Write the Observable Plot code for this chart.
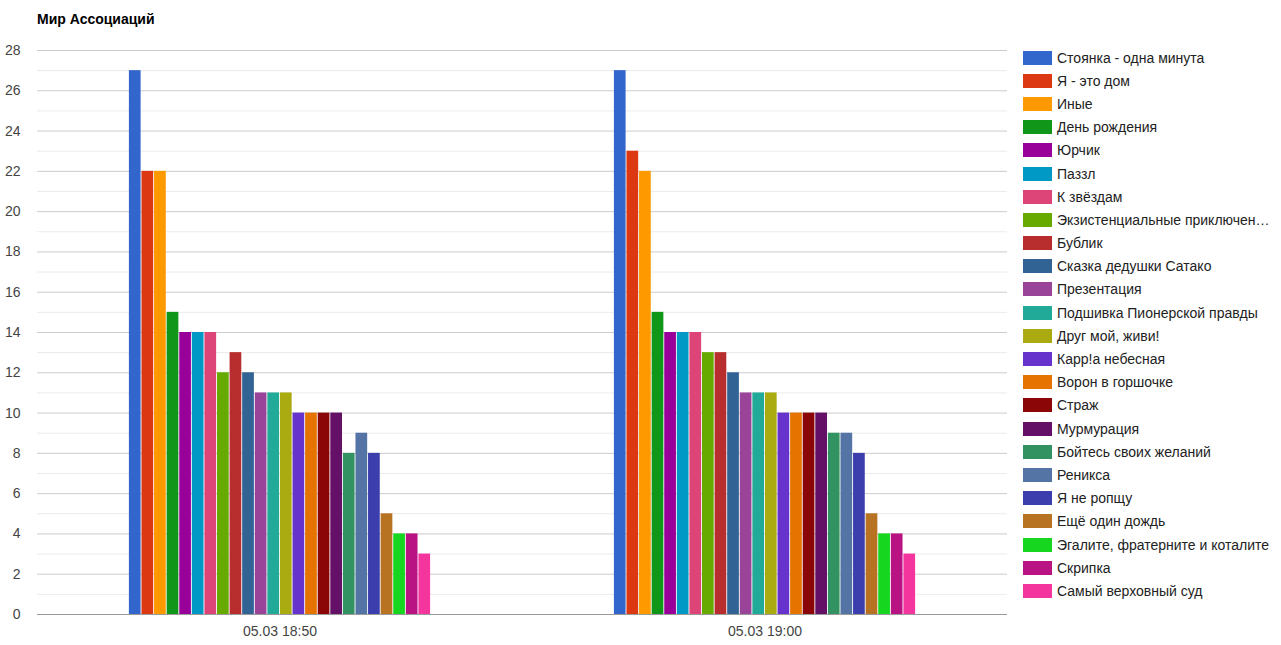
<!DOCTYPE html>
<html><head><meta charset="utf-8">
<script src="https://cdn.jsdelivr.net/npm/d3@7"></script>
<script src="https://cdn.jsdelivr.net/npm/@observablehq/plot@0.6"></script>
<style>
body{margin:0;background:#fff;font-family:Arial,"Liberation Sans",sans-serif;}
#wrap{position:relative;width:1281px;height:645px;}
#title{position:absolute;left:37px;top:11px;font-size:14px;font-weight:bold;color:#000;}
#chart{position:absolute;left:0;top:40px;}
#legend{position:absolute;left:1023px;top:46px;font-size:14px;color:#222;}
.li{display:flex;align-items:center;height:23.2px;white-space:nowrap;}
.sw{width:29px;height:14px;margin-right:5px;flex:none;}
</style></head>
<body><div id="wrap"><div id="title">Мир Ассоциаций</div><div id="chart"></div><div id="legend"></div></div>
<script>
const times = ["05.03 18:50", "05.03 19:00"];
const series = ["Стоянка - одна минута","Я - это дом","Иные","День рождения","Юрчик","Паззл","К звёздам","Экзистенциальные приключения","Бублик","Сказка дедушки Сатако","Презентация","Подшивка Пионерской правды","Друг мой, живи!","Карр!а небесная","Ворон в горшочке","Страж","Мурмурация","Бойтесь своих желаний","Реникса","Я не ропщу","Ещё один дождь","Эгалите, фратерните и коталите","Скрипка","Самый верховный суд"];
const legendLabels = ["Стоянка - одна минута","Я - это дом","Иные","День рождения","Юрчик","Паззл","К звёздам","Экзистенциальные приключен…","Бублик","Сказка дедушки Сатако","Презентация","Подшивка Пионерской правды","Друг мой, живи!","Карр!а небесная","Ворон в горшочке","Страж","Мурмурация","Бойтесь своих желаний","Реникса","Я не ропщу","Ещё один дождь","Эгалите, фратерните и коталите","Скрипка","Самый верховный суд"];
const values1850 = [27,22,22,15,14,14,14,12,13,12,11,11,11,10,10,10,10,8,9,8,5,4,4,3];
const values1900 = [27,23,22,15,14,14,14,13,13,12,11,11,11,10,10,10,10,9,9,8,5,4,4,3];
const colors = ["#3366cc","#dc3912","#ff9900","#109618","#990099","#0099c6","#dd4477","#66aa00","#b82e2e","#316395","#994499","#22aa99","#aaaa11","#6633cc","#e67300","#8b0707","#651067","#329262","#5574a6","#3b3eac","#b77322","#16d620","#b91383","#f4359e"];
const majorTicks = [0,2,4,6,8,10,12,14,16,18,20,22,24,26,28];
const minorTicks = [1,3,5,7,9,11,13,15,17,19,21,23,25,27];

const rows = [];
series.forEach((s,i)=>{
  rows.push({time: times[0], series: s, value: values1850[i]});
  rows.push({time: times[1], series: s, value: values1900[i]});
});

const chart = Plot.plot({
  width: 1010, height: 605,
  marginLeft: 37, marginRight: 3, marginTop: 10, marginBottom: 31,
  style: {fontFamily: "Arial, 'Liberation Sans', sans-serif", fontSize: "14px", color: "#444", background: "transparent"},
  fx: {domain: times, paddingInner: 0, paddingOuter: 0, round: false, label: null, axis: "bottom", tickSize: 0, tickPadding: 12},
  x: {domain: series, paddingInner: 0.07, paddingOuter: 7.3, round: false, axis: null},
  y: {domain: [0, 28], ticks: majorTicks, label: null, tickSize: 0, tickPadding: 17},
  color: {domain: series, range: colors},
  marks: [
    Plot.ruleY(minorTicks, {stroke: "#ebebeb", strokeOpacity: 1}),
    Plot.ruleY(majorTicks.filter(d=>d>0), {stroke: "#cccccc", strokeOpacity: 1}),
    Plot.barY(rows, {fx: "time", x: "series", y: "value", fill: "series"}),
    Plot.ruleY([0], {stroke: "#999999", strokeOpacity: 1})
  ]
});
document.getElementById("chart").appendChild(chart);

const lg = document.getElementById("legend");
legendLabels.forEach((l,i)=>{
  const d = document.createElement("div"); d.className="li";
  const sw = document.createElement("span"); sw.className="sw"; sw.style.background = colors[i];
  const t = document.createElement("span"); t.textContent = l;
  d.appendChild(sw); d.appendChild(t); lg.appendChild(d);
});
</script></body></html>
